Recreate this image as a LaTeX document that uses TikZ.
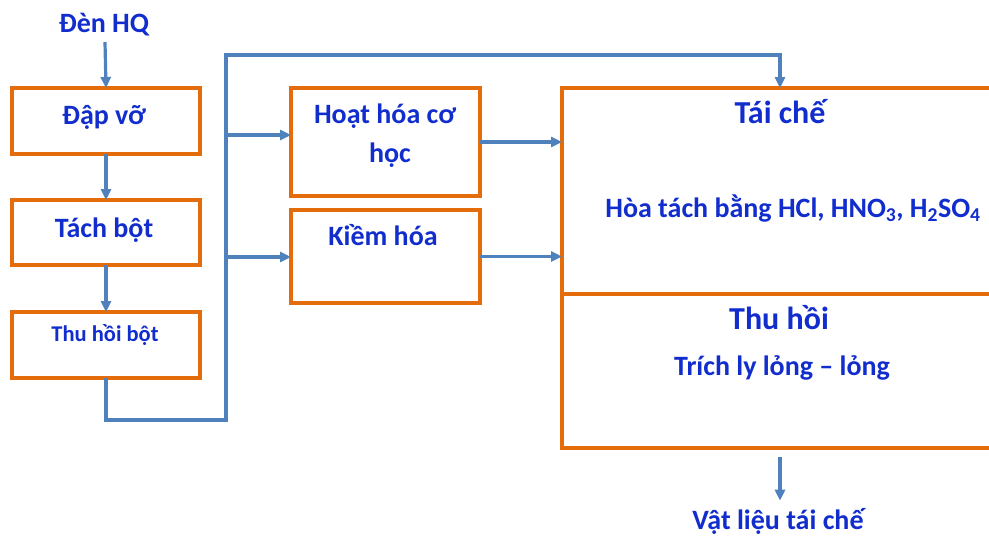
\documentclass[tikz,border=0pt]{standalone}
\usepackage{fontspec}
\setmainfont{Carlito}
\usetikzlibrary{arrows.meta}
\definecolor{txtblue}{RGB}{18,45,205}
\definecolor{lineblue}{RGB}{79,129,189}
\definecolor{boxorange}{RGB}{228,108,10}
\begin{document}
\begin{tikzpicture}[x=1pt,y=-1pt,
  stepbox/.style={draw=boxorange,line width=3.6pt,inner sep=0pt,outer sep=0pt,anchor=north west},
  lbl/.style={text=txtblue,font=\bfseries\fontsize{28}{32}\selectfont,inner sep=0pt,anchor=base},
  small/.style={lbl,font=\bfseries\fontsize{22.5}{26}\selectfont},
  big/.style={lbl,font=\bfseries\fontsize{32}{36}\selectfont},
  flow/.style={draw=lineblue,line width=3.2pt,-{Triangle[length=11pt,width=10pt]}}]
\useasboundingbox (0,0) rectangle (989,536);

% process boxes
\node[stepbox,minimum width=188pt,minimum height=66pt] (dap) at (12,88) {};
\node[stepbox,minimum width=188pt,minimum height=65pt] (tach) at (12,200) {};
\node[stepbox,minimum width=188pt,minimum height=66pt] (thu) at (12,312) {};
\node[stepbox,minimum width=189pt,minimum height=108pt] (hoat) at (291,88) {};
\node[stepbox,minimum width=189pt,minimum height=93pt] (kiem) at (291,210) {};
\node[stepbox,minimum width=436pt,minimum height=206pt] (taiche) at (562,88) {};
\node[stepbox,minimum width=436pt,minimum height=154pt] (thuhoi) at (562,294) {};

% texts
\node[lbl] (den) at (104,32) {Đèn HQ};
\node[lbl] (tdap) at (104,124) {Đập vỡ};
\node[lbl] (ttach) at (104,237) {Tách bột};
\node[small] (tthu) at (105,341) {Thu hồi bột};
\node[lbl] (thoat1) at (385,123) {Hoạt hóa cơ};
\node[lbl] (thoat2) at (390,162) {học};
\node[lbl] (tkiem) at (383,245) {Kiềm hóa};
\node[big] (ttaiche) at (780,123) {Tái chế};
\node[lbl] (thoa) at (793,217) {Hòa tách bằng HCl, HNO\textsubscript{3}, H\textsubscript{2}SO\textsubscript{4}};
\node[big] (tthuhoi) at (779,329) {Thu hồi};
\node[lbl] (ttrich) at (782,375) {Trích ly lỏng – lỏng};
\node[lbl] (vat) at (778,529) {Vật liệu tái chế};

% connectors
\coordinate (busbot) at (226,420);
\coordinate (bustop) at (226,55);
\coordinate (b1) at (226,135);
\coordinate (b2) at (226,257);

\draw[flow] (105,42) -- (dap.north);
\draw[flow] (dap.south) -- (tach.north);
\draw[flow] (tach.south) -- (thu.north);
\draw[flow] (thu.south) |- (busbot) -- (bustop) -| (taiche.north);
\draw[flow] (b1) -- (b1 -| hoat.west);
\draw[flow] (b2) -- (b2 -| kiem.west);
\draw[flow] (hoat.east) -- (hoat.east -| taiche.west);
\draw[flow] (kiem.east) -- (kiem.east -| taiche.west);
\draw[flow] ([yshift=-9pt]thuhoi.south) -- ([yshift=7pt]thuhoi.south |- vat.north);
\end{tikzpicture}
\end{document}
